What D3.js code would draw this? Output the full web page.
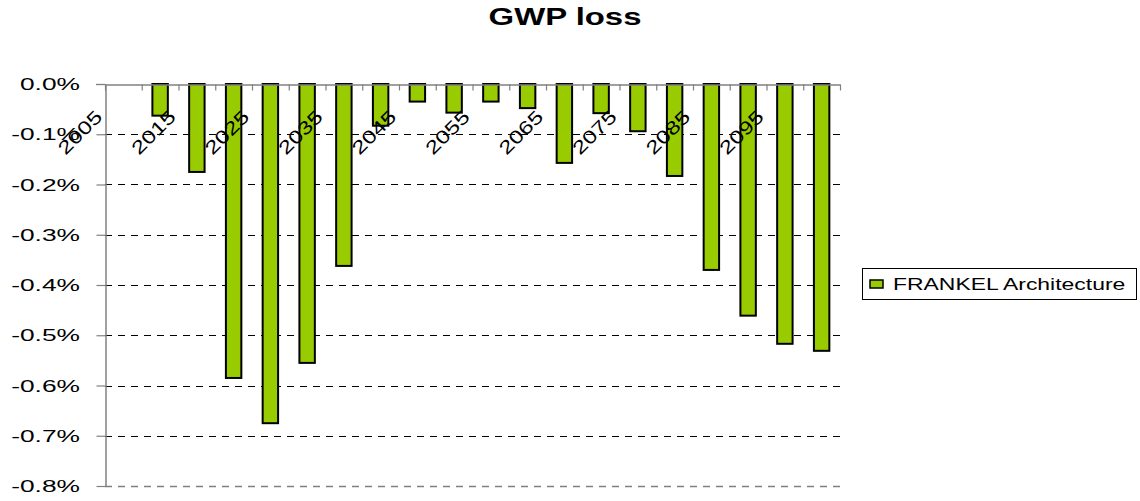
<!DOCTYPE html>
<html>
<head>
<meta charset="utf-8">
<script src="https://cdn.jsdelivr.net/npm/d3@7"></script>
<style>
  body { margin: 0; background: #fff; }
  text { font-family: "Liberation Sans", Arial, sans-serif; fill: #000; }
</style>
</head>
<body>
<div id="chart"></div>
<script>
// data (percent change of GWP)
const years = [2005, 2010, 2015, 2020, 2025, 2030, 2035, 2040, 2045, 2050,
  2055, 2060, 2065, 2070, 2075, 2080, 2085, 2090, 2095, 2100]
const gwpLoss = [0, -0.063, -0.175, -0.585, -0.675, -0.555, -0.362, -0.083, -0.035, -0.057,
  -0.035, -0.048, -0.157, -0.058, -0.094, -0.183, -0.37, -0.461, -0.517, -0.531]
const yTicks = [0, -0.1, -0.2, -0.3, -0.4, -0.5, -0.6, -0.7, -0.8]
const xLabels = [2005, 2015, 2025, 2035, 2045, 2055, 2065, 2075, 2085, 2095]
const seriesName = 'FRANKEL Architecture'

const W = 1140
const H = 501
const plot = { left: 105, right: 840, top: 84, bottom: 486 }

const svg = d3.select('#chart').append('svg')
  .attr('width', W)
  .attr('height', H)

const x = d3.scaleBand()
  .domain(years)
  .range([plot.left, plot.right])
  .padding(0)

const xEdge = d3.scaleLinear()
  .domain([0, years.length])
  .range([plot.left, plot.right])

const y = d3.scaleLinear()
  .domain([-0.8, 0])
  .range([plot.bottom, plot.top])

// title
svg.append('text')
  .attr('transform', 'translate(565,25) scale(1.4,1)')
  .attr('text-anchor', 'middle')
  .style('font-size', '23.5px')
  .style('font-weight', 'bold')
  .text('GWP loss')

// gridlines
svg.append('g')
  .selectAll('line')
  .data(yTicks.filter(d => d !== 0))
  .join('line')
  .attr('x1', plot.left)
  .attr('x2', plot.right)
  .attr('y1', d => Math.round(y(d)) + 0.5)
  .attr('y2', d => Math.round(y(d)) + 0.5)
  .attr('stroke', d => d === -0.8 ? '#808080' : '#000')
  .attr('stroke-width', d => d === -0.8 ? 1.5 : 1)
  .attr('stroke-dasharray', '7,6')

// y axis
const yAxis = svg.append('g')
  .attr('transform', `translate(${plot.left + 0.5},0)`)
  .call(d3.axisLeft(y).tickValues(yTicks).tickSize(9).tickSizeOuter(0).tickFormat(''))
yAxis.select('.domain').attr('stroke', '#808080').attr('stroke-width', 1.5)
yAxis.selectAll('.tick line').attr('stroke', '#808080').attr('stroke-width', 1.2)

svg.append('g')
  .selectAll('text')
  .data(yTicks)
  .join('text')
  .attr('transform', d => `translate(80,${y(d) + 6}) scale(1.55,1)`)
  .attr('text-anchor', 'end')
  .style('font-size', '17px')
  .text(d => d.toFixed(1) + '%')

// bars
const barW = x.bandwidth() * 0.42
svg.append('g')
  .selectAll('rect')
  .data(years.map((yr, i) => ({ yr, v: gwpLoss[i] })).filter(d => d.v !== 0))
  .join('rect')
  .attr('x', d => x(d.yr) + (x.bandwidth() - barW) / 2)
  .attr('y', y(0))
  .attr('width', barW)
  .attr('height', d => y(d.v) - y(0))
  .attr('fill', '#99cc00')
  .attr('stroke', '#000')
  .attr('stroke-width', 2)

// category axis along zero line, ticks pointing down
const xAxis = svg.append('g')
  .attr('transform', `translate(0,${Math.round(y(0)) + 0.5})`)
  .call(d3.axisBottom(xEdge).ticks(years.length).tickSize(6).tickSizeOuter(0).tickFormat(''))
xAxis.select('.domain').attr('stroke', '#808080').attr('stroke-width', 1.5)
xAxis.selectAll('.tick line').attr('stroke', '#808080').attr('stroke-width', 1.2)
svg.append('line')
  .attr('x1', plot.left - 9)
  .attr('x2', plot.left)
  .attr('y1', Math.round(y(0)) + 0.5)
  .attr('y2', Math.round(y(0)) + 0.5)
  .attr('stroke', '#808080')
  .attr('stroke-width', 1.2)

// rotated category labels
svg.append('g')
  .selectAll('text')
  .data(xLabels)
  .join('text')
  .attr('transform', d => `translate(${x(d) + x.bandwidth() / 2 - 20},118) rotate(-45) scale(1.3,1)`)
  .attr('text-anchor', 'end')
  .style('font-size', '18.5px')
  .text(d => d)

// legend
svg.append('rect')
  .attr('x', 862.5)
  .attr('y', 268.5)
  .attr('width', 274)
  .attr('height', 31)
  .attr('fill', '#fff')
  .attr('stroke', '#000')
  .attr('stroke-width', 1)
const legend = svg.append('g')
legend.append('rect')
  .attr('x', 870)
  .attr('y', 280)
  .attr('width', 13)
  .attr('height', 8)
  .attr('fill', '#99cc00')
  .attr('stroke', '#000')
  .attr('stroke-width', 1.5)
legend.append('text')
  .attr('transform', 'translate(893,290) scale(1.39,1)')
  .style('font-size', '16.5px')
  .text(seriesName)
</script>
</body>
</html>
